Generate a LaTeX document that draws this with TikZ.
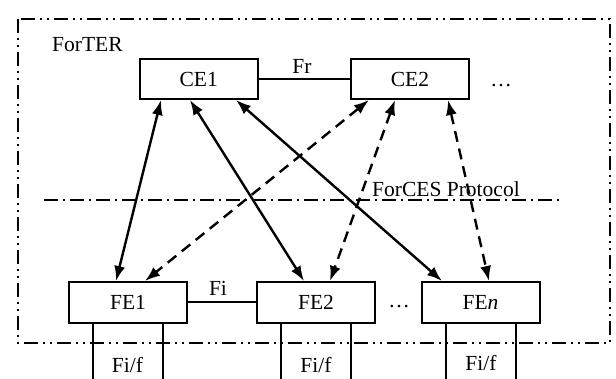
\documentclass[tikz,border=0pt]{standalone}
\usepackage{fontspec}
\setmainfont{Liberation Serif}
\usetikzlibrary{arrows.meta}
\begin{document}
\begin{tikzpicture}[x=1pt,y=-1pt,
  every node/.style={font=\fontsize{21.5}{25}\selectfont, inner sep=0pt},
  elem/.style={draw, line width=2pt, minimum width=118pt, minimum height=40pt},
  link/.style={line width=2pt},
  ctrl/.style={line width=2.4pt, {Latex[length=15pt,width=11pt]}-{Latex[length=15pt,width=11pt]}},
  ctrldash/.style={ctrl, dash pattern=on 11pt off 7pt},
  border/.style={line width=1.9pt, dash pattern=on 14pt off 5pt on 2pt off 5pt on 2pt off 5pt},
  layer/.style={line width=1.9pt, dash pattern=on 14pt off 5pt on 2pt off 5pt}]
  % canvas
  \path[fill=white, use as bounding box] (0,0) rectangle (616,379);

  % router boundary
  \draw[border] (18,19) rectangle (610,343);
  \node[anchor=west] (forter) at (52,45) {ForTER};

  % control elements
  \node[elem] (CE1) at (198.75,79) {CE1};
  \node[elem] (CE2) at (410,79) {CE2};
  \draw[link] (CE1.east) -- (CE2.west);
  \node (fr) at (302,66) {Fr};
  \node[anchor=base] (cedots) at (501,87) {\dots};

  % protocol layer
  \coordinate (pl) at (44,200);
  \coordinate (pr) at (562,200);
  \draw[layer] (pl) -- (pr);
  \node[anchor=west] (proto) at (372,189) {ForCES Protocol};

  % forwarding elements
  \node[elem, minimum height=41pt] (FE1) at (128,302.5) {FE1};
  \node[elem, minimum height=41pt] (FE2) at (316,302.5) {FE2};
  \node[elem, minimum height=41pt] (FEn) at (480.5,302.5) {FE\textit{n}};
  \draw[link] (FE1.east) -- (FE2.west);
  \node (fi) at (218,288) {Fi};
  \node[anchor=base] (fedots) at (399,308) {\dots};

  % CE1 associations
  \draw[ctrl] ([xshift=-37.75pt]CE1.south) -- ([xshift=-12pt]FE1.north);
  \draw[ctrl] ([xshift=-8.75pt]CE1.south) -- ([xshift=-12pt]FE2.north);
  \draw[ctrl] ([xshift=37.25pt]CE1.south) -- ([xshift=-38.5pt]FEn.north);

  % CE2 associations
  \draw[ctrldash] ([xshift=-41pt]CE2.south) -- ([xshift=17pt]FE1.north);
  \draw[ctrldash] ([xshift=-15pt]CE2.south) -- ([xshift=14pt]FE2.north);
  \draw[ctrldash] ([xshift=38pt]CE2.south) -- ([xshift=8.5pt]FEn.north);

  % external interfaces
  \foreach \fe in {FE1,FE2,FEn}{
    \draw[link] ([xshift=-35pt]\fe.south) -- ++(0,60);
    \draw[link] ([xshift=35pt]\fe.south) -- ++(0,60);
  }
  \node (fif1) at (127.5,365) {Fi/f};
  \node (fif2) at (316,365) {Fi/f};
  \node (fifn) at (481,363) {Fi/f};
\end{tikzpicture}
\end{document}
